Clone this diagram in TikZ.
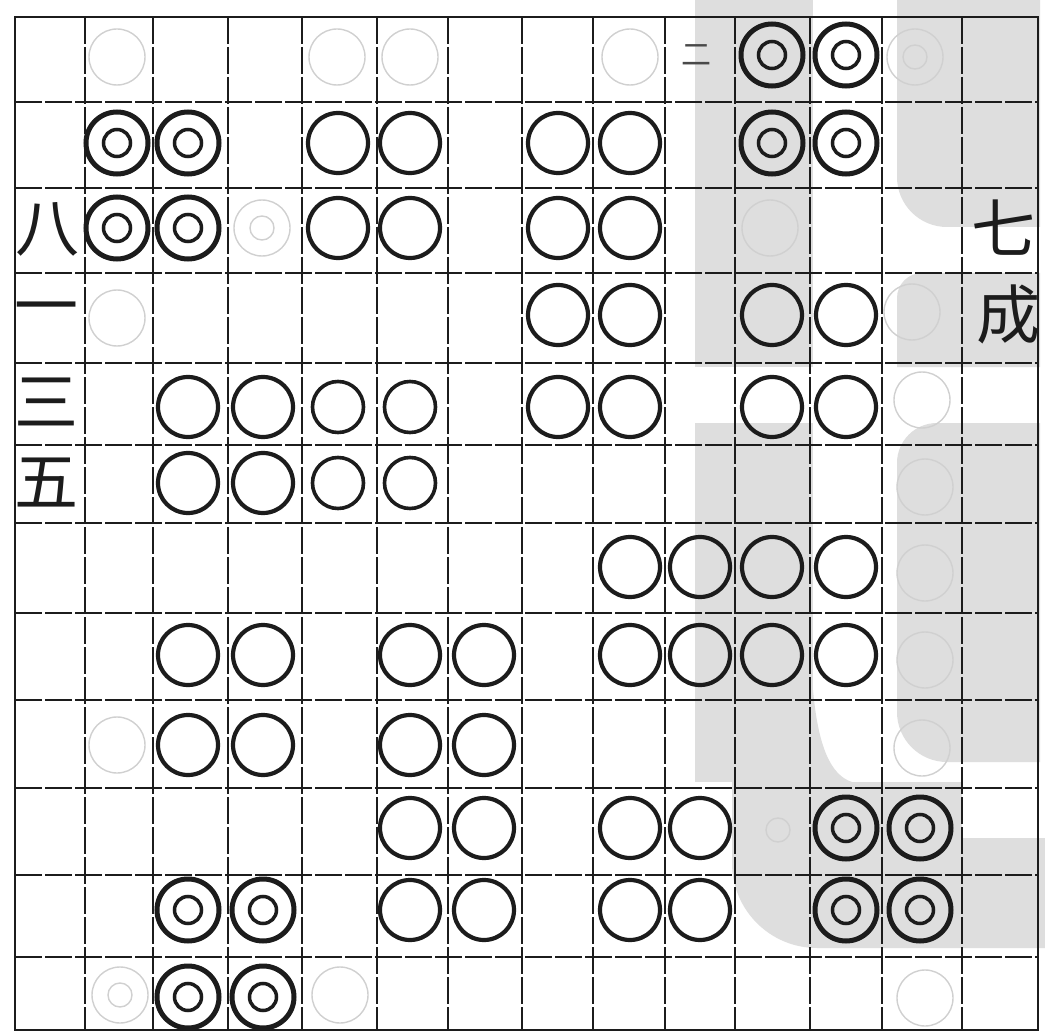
\documentclass[tikz,border=0pt]{standalone}
\usepackage{fontspec}
\newfontfamily\cjk{Noto Sans CJK SC}
\definecolor{wmgray}{RGB}{222,222,222}
\definecolor{ghost}{RGB}{208,208,208}
\definecolor{ink}{RGB}{28,28,28}
\tikzset{
  ring/.style={circle, draw=ink, line width=4.2pt, minimum size=60pt, inner sep=0pt},
  smallring/.style={ring, minimum size=51pt, line width=3.6pt},
  outerring/.style={circle, draw=ink, line width=5pt, minimum size=62pt, inner sep=0pt},
  innerring/.style={circle, draw=ink, line width=3.5pt, minimum size=27pt, inner sep=0pt},
  ghostring/.style={circle, draw=ghost, line width=1.4pt, minimum size=56pt, inner sep=0pt},
  glyph/.style={font=\cjk\fontsize{64}{64}\selectfont, text=ink, inner sep=0pt},
  gridline/.style={ink, line width=1.8pt, dash pattern=on 27pt off 3pt},
}
\begin{document}
\begin{tikzpicture}[x=1pt, y=1pt]
  \useasboundingbox (0,0) rectangle (1045,-1035);
  \fill[white] (0,0) rectangle (1045,-1035);

  % Watermark shading on the right half
  \fill[wmgray] (695,0) rectangle (813,-367);
  \fill[wmgray] (897,0) -- (1040,0) -- (1040,-227) -- (947,-227)
    arc[start angle=270, end angle=180, radius=50] -- cycle;
  \fill[wmgray] (897,-298) arc[start angle=180, end angle=90, radius=25]
    -- (1040,-273) -- (1040,-367) -- (897,-367) -- cycle;
  \fill[wmgray] (695,-423) rectangle (813,-782);
  \fill[wmgray] (897,-463) arc[start angle=180, end angle=90, radius=40]
    -- (1040,-423) -- (1040,-762) -- (947,-762)
    arc[start angle=270, end angle=180, radius=50] -- cycle;
  \fill[wmgray] (813,-690) .. controls (818,-745) and (830,-775) .. (852,-782)
    -- (813,-782) -- cycle;
  \fill[wmgray] (732,-782) -- (962,-782) -- (962,-838) -- (1045,-838)
    -- (1045,-948) -- (817,-948)
    arc[start angle=270, end angle=180, radius=85] -- cycle;

  % Faint show-through rings
  \foreach \gx/\gy in {117/57, 337/57, 410/57, 630/57, 915/57, 262/228, 770/228,
      117/318, 912/312, 922/400, 925/487, 925/573, 925/660, 922/748,
      117/745, 120/995, 340/995, 925/998}{
    \node[ghostring] (ghost-\gx-\gy) at (\gx,-\gy) {};
  }
  \foreach \gx/\gy in {915/57, 262/228, 778/830, 120/995}{
    \node[ghostring, minimum size=24pt] (ghostin-\gx-\gy) at (\gx,-\gy) {};
  }

  % Grid
  \foreach \gx in {85,153,228,302,377,448,522,593,665,735,810,882,962}{
    \draw[gridline] (\gx,-17) -- (\gx,-1030);
  }
  \foreach \gy in {102,188,273,363,445,523,613,700,788,875,957}{
    \draw[gridline] (15,-\gy) -- (1038,-\gy);
  }
  \draw[ink, line width=2.2pt] (15,-17) rectangle (1038,-1030);

  % Ring centres by column and row
  \def\colx{{0,50,117,188,263,338,410,484,558,630,700,772,846,920,1000}}
  \def\rowy{{0,55,143,228,315,407,483,567,655,745,828,910,997}}

  % Plain rings
  \foreach \c/\r in {5/2,6/2,8/2,9/2, 5/3,6/3,8/3,9/3, 8/4,9/4,11/4,12/4,
      3/5,4/5,8/5,9/5,11/5,12/5, 3/6,4/6, 9/7,10/7,11/7,12/7,
      3/8,4/8,6/8,7/8,9/8,10/8,11/8,12/8, 3/9,4/9,6/9,7/9,
      6/10,7/10,9/10,10/10, 6/11,7/11,9/11,10/11}{
    \pgfmathsetmacro\xx{\colx[\c]}
    \pgfmathsetmacro\yy{\rowy[\r]}
    \node[ring] (s-\c-\r) at (\xx,-\yy) {};
  }
  \foreach \c/\r in {5/5,6/5,5/6,6/6}{
    \pgfmathsetmacro\xx{\colx[\c]}
    \pgfmathsetmacro\yy{\rowy[\r]}
    \node[smallring] (s-\c-\r) at (\xx,-\yy) {};
  }

  % Double rings
  \foreach \c/\r in {11/1,12/1, 2/2,3/2,11/2,12/2, 2/3,3/3,
      12/10,13/10, 3/11,4/11,12/11,13/11, 3/12,4/12}{
    \pgfmathsetmacro\xx{\colx[\c]}
    \pgfmathsetmacro\yy{\rowy[\r]}
    \node[outerring] (d-\c-\r) at (\xx,-\yy) {};
    \node[innerring] (d-\c-\r-in) at (d-\c-\r.center) {};
  }

  % Side characters
  \node[glyph] (ba) at (48,-229) {八};
  \node[glyph] (yi) at (47,-316) {一};
  \node[glyph] (san) at (47,-402) {三};
  \node[glyph] (wu) at (47,-483) {五};
  \node[glyph] (qi) at (1003,-228) {七};
  \node[glyph] (cheng) at (1008,-314) {成};
  \node[glyph, font=\cjk\fontsize{30}{30}\selectfont, text=ink!80] (er) at (696,-55) {二};
\end{tikzpicture}
\end{document}
